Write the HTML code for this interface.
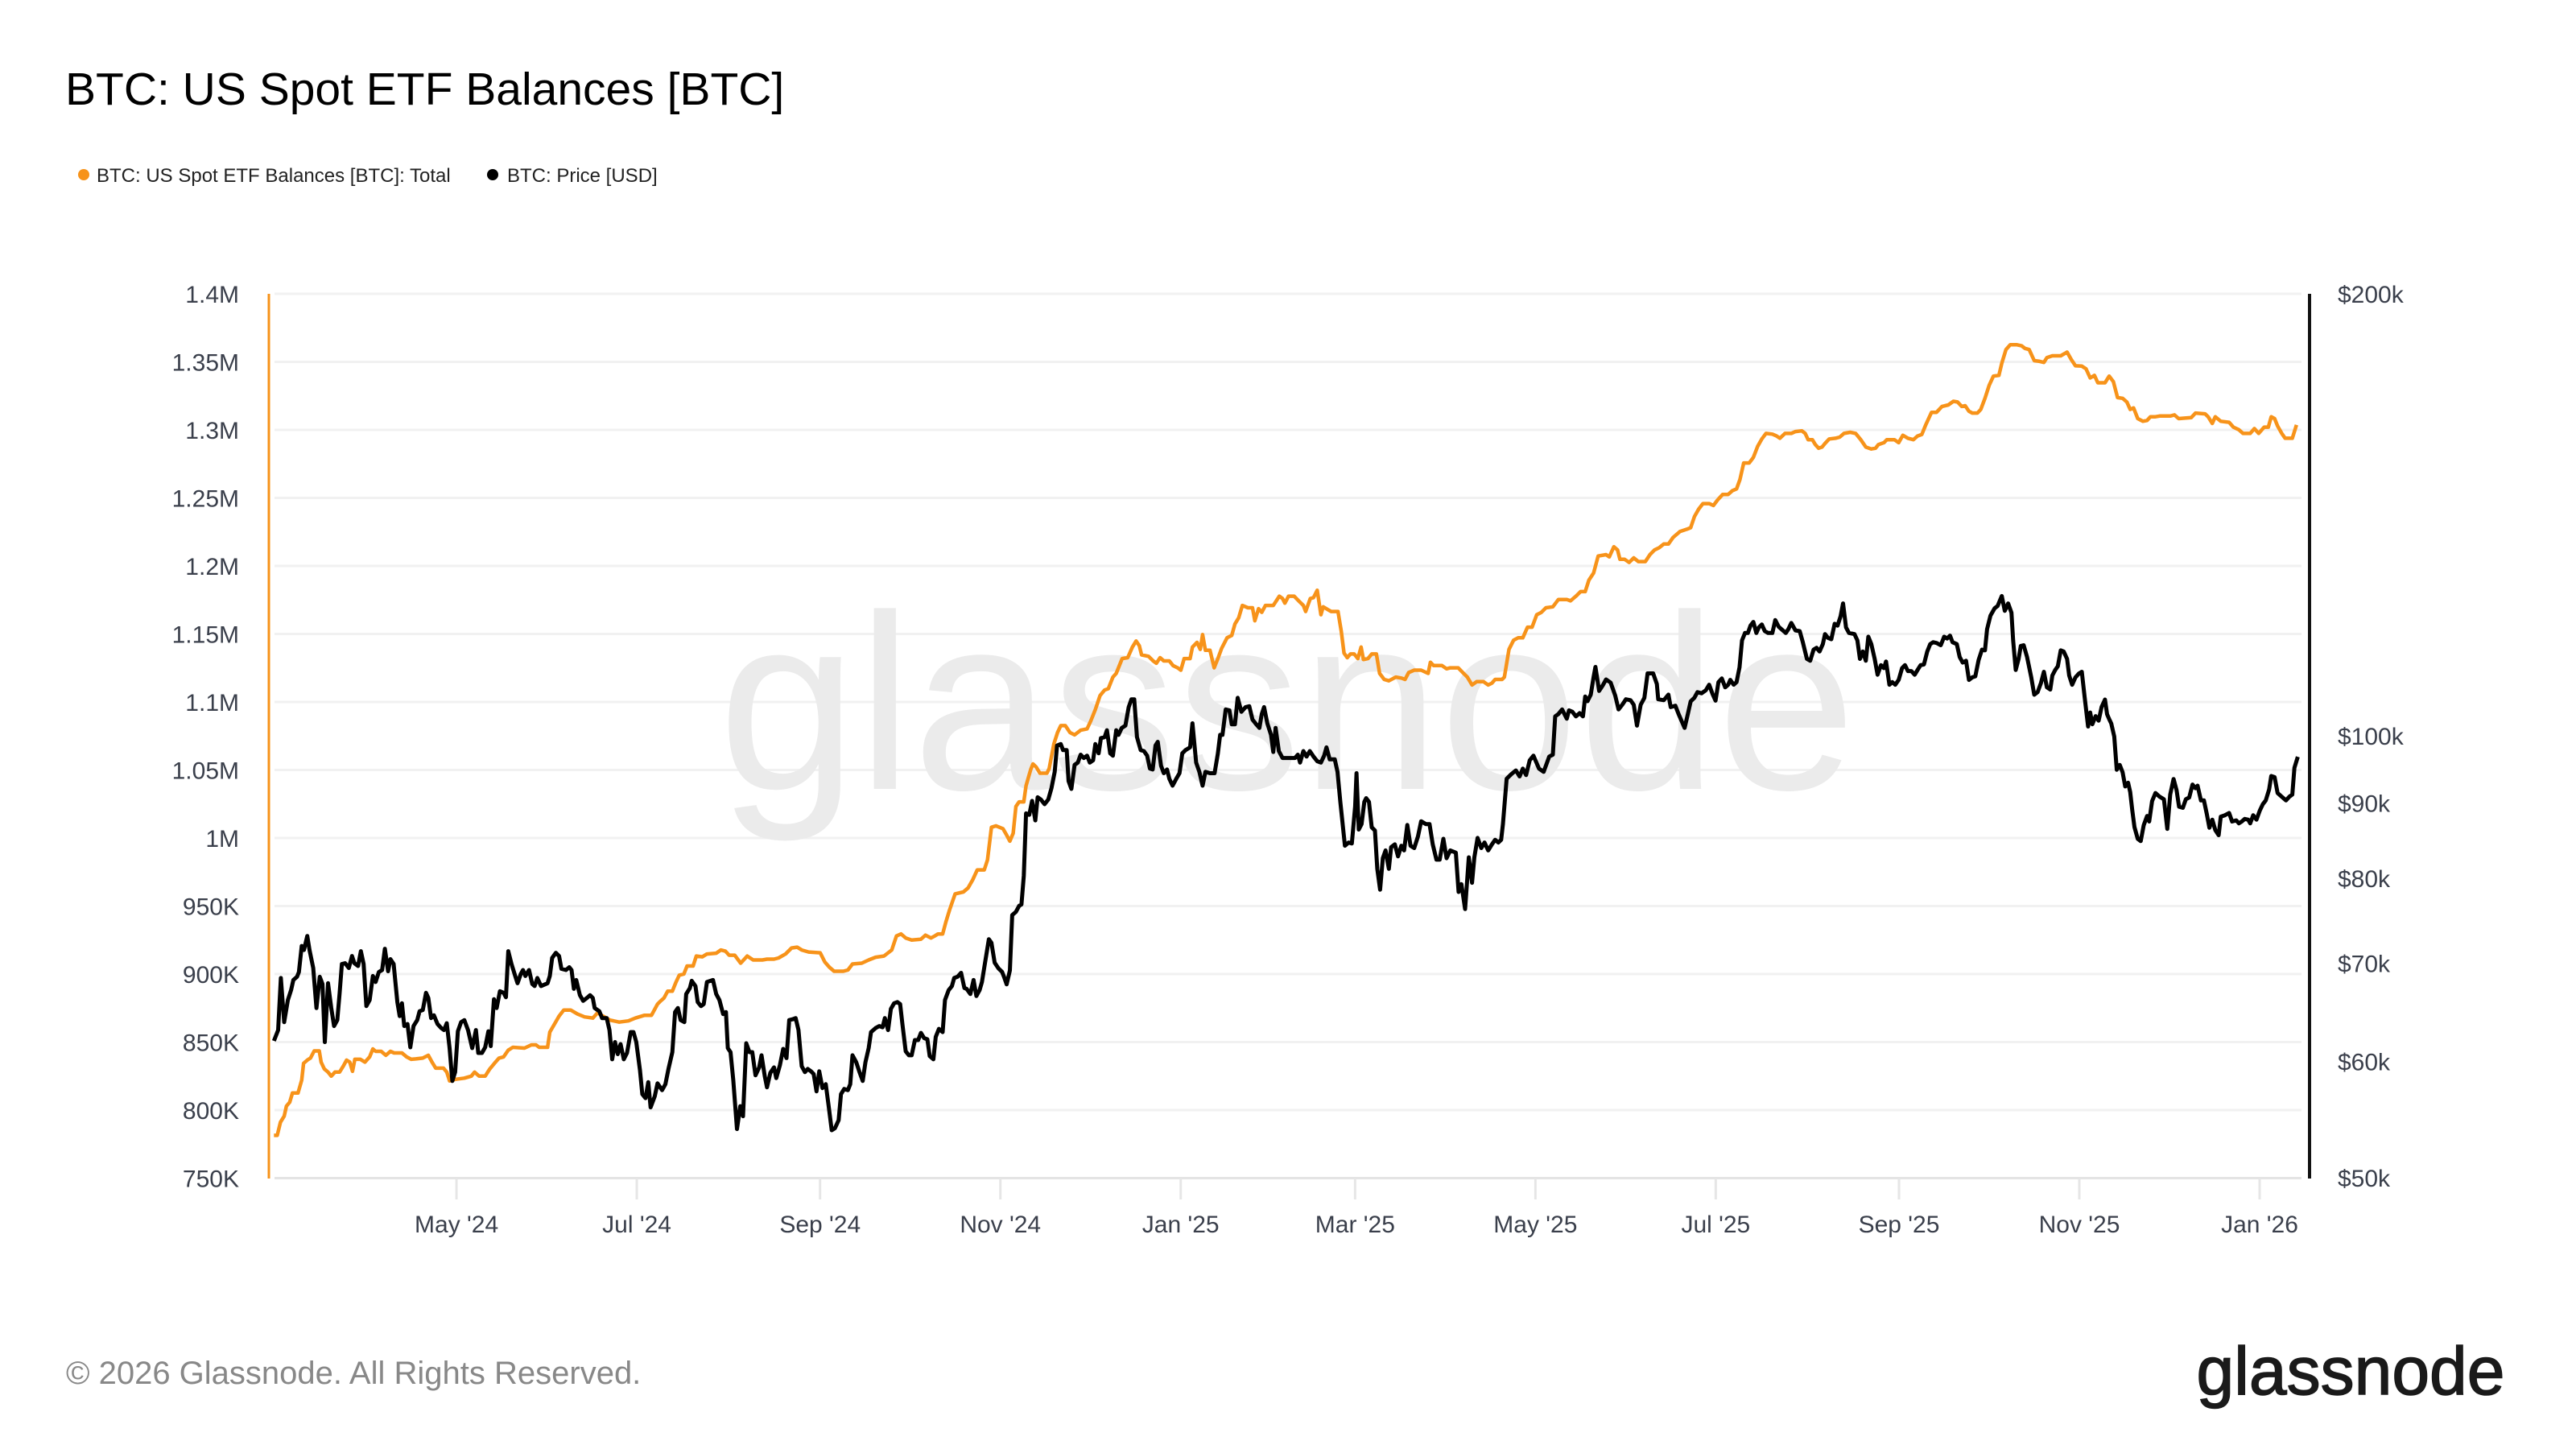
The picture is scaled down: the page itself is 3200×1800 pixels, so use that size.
<!DOCTYPE html>
<html><head><meta charset="utf-8">
<style>
html,body{margin:0;padding:0;background:#fff;}
body{width:3200px;height:1800px;overflow:hidden;position:relative;font-family:"Liberation Sans",Arial,sans-serif;}
</style></head>
<body>
<svg id="c" width="3200" height="1800" viewBox="0 0 3200 1800" xmlns="http://www.w3.org/2000/svg" style="position:absolute;left:0;top:0">
<text x="81" y="130" font-size="57" fill="#000" font-family="Liberation Sans, sans-serif">BTC: US Spot ETF Balances [BTC]</text>
<circle cx="104" cy="217" r="7" fill="#f7931a"/>
<text x="120" y="226" font-size="24" fill="#222" font-family="Liberation Sans, sans-serif">BTC: US Spot ETF Balances [BTC]: Total</text>
<circle cx="612" cy="217" r="7" fill="#000"/>
<text x="630" y="226" font-size="24" fill="#222" font-family="Liberation Sans, sans-serif">BTC: Price [USD]</text>
<g id="grid"></g>
<text x="1599" y="980" font-size="310" fill="#ebebeb" text-anchor="middle" font-family="Liberation Sans, sans-serif">glassnode</text>
<g id="series"></g>
<line x1="334" y1="365" x2="334" y2="1464" stroke="#f7931a" stroke-width="3"/>
<line x1="2869" y1="365" x2="2869" y2="1464" stroke="#111" stroke-width="4"/>
<text x="82" y="1719" font-size="40" fill="#888" font-family="Liberation Sans, sans-serif">© 2026 Glassnode. All Rights Reserved.</text>
<text x="2920" y="1732" font-size="84" fill="#1a1a1a" stroke="#1a1a1a" stroke-width="1.5" text-anchor="middle" font-family="Liberation Sans, sans-serif">glassnode</text>
</svg>
<script>
const NS="http://www.w3.org/2000/svg";
function el(t,a,p){const e=document.createElementNS(NS,t);for(const k in a)e.setAttribute(k,a[k]);if(p)p.appendChild(e);return e;}
const grid=document.getElementById('grid');
const labs=['1.4M','1.35M','1.3M','1.25M','1.2M','1.15M','1.1M','1.05M','1M','950K','900K','850K','800K','750K'];
for(let i=0;i<14;i++){const y=365+i*84.5;
 el('line',{x1:341,x2:2859,y1:y,y2:y,stroke:i==13?'#e4e4e4':'#f1f1f1','stroke-width':3},grid);
 const t=el('text',{x:297,y:y+11,'font-size':30,fill:'#3a3f4b','text-anchor':'end','font-family':'Liberation Sans, sans-serif'},grid);t.textContent=labs[i];}
const rl=[['$200k',200],['$100k',100],['$90k',90],['$80k',80],['$70k',70],['$60k',60],['$50k',50]];
rl.forEach(r=>{const y=1463-792*Math.log(r[1]/50);const t=el('text',{x:2904,y:y+11,'font-size':30,fill:'#3a3f4b','font-family':'Liberation Sans, sans-serif'},grid);t.textContent=r[0];});
const mt=[["May '24",-549],["Jul '24",-488],["Sep '24",-426],["Nov '24",-365],["Jan '25",-304],["Mar '25",-245],["May '25",-184],["Jul '25",-123],["Sep '25",-61],["Nov '25",0],["Jan '26",61]];
mt.forEach(m=>{const x=2583+m[1]*3.672;el('line',{x1:x,x2:x,y1:1464,y2:1490,stroke:'#e6e6e6','stroke-width':3},grid);
 const t=el('text',{x:x,y:1531,'font-size':30,fill:'#3a3f4b','text-anchor':'middle','font-family':'Liberation Sans, sans-serif'},grid);t.textContent=m[0];});
function conv(arr,ox,oy,sx,sy){const o=[];for(let i=0;i<arr.length;i+=2)o.push((ox+arr[i]/sx).toFixed(1)+','+(oy+arr[i+1]/sy).toFixed(1));return o;}
const o6=[18,1428,25,1428,32,1395,40,1380,45,1355,52,1345,58,1322,70,1322,78,1290,82,1248,90,1240,97,1235,105,1217,116,1217,120,1245,127,1262,135,1270,142,1280,150,1270,160,1270,168,1255,175,1240,182,1245,188,1268,193,1238,205,1238,215,1245,225,1232,232,1212,238,1218,250,1218,260,1228,270,1218,278,1222,295,1222,305,1232,315,1238,325,1237,340,1235,352,1228,360,1245,368,1260,385,1260,392,1270,398,1292,410,1288,430,1285,445,1280,452,1270,462,1280,475,1280,485,1262,495,1248,505,1235,515,1232,525,1215,535,1208,560,1210,575,1202,585,1202,592,1208,610,1208,615,1170,625,1150,635,1130,645,1115,660,1115,675,1125,690,1132,708,1135,718,1122,730,1130,745,1140,765,1145,785,1142,800,1135,820,1128,835,1128,848,1100,855,1092,862,1085,870,1068,880,1068,888,1045,895,1028,905,1025,912,1005,925,1005,932,980,945,982,955,975,975,973,985,965,995,968,1003,978,1015,978,1028,998,1042,980,1055,990,1075,990,1085,988,1100,988,1110,985,1125,975,1138,960,1150,958,1160,965,1175,970,1200,972,1210,995,1220,1008,1230,1018,1250,1018,1260,1015,1270,1000,1290,998,1305,990,1320,983,1338,980,1355,965,1365,930,1375,925,1385,935,1398,940,1418,938,1428,928,1440,935,1448,930,1455,925,1465,925,1472,895,1480,865,1492,825,1510,820,1520,810,1530,790,1540,765,1555,765,1562,740];
const o7=[55,745,65,742,80,748,88,762,95,775,102,758,108,700,115,690,125,690,130,655,140,620,145,608,152,615,160,628,175,628,180,618,190,565,198,540,205,525,215,525,225,540,235,545,248,535,262,532,270,515,280,490,290,460,300,448,308,445,318,420,325,412,338,380,350,378,360,355,368,342,375,352,380,372,395,375,405,385,412,390,420,378,428,385,440,385,448,395,458,400,465,405,472,380,485,380,490,355,500,345,507,360,512,328,518,362,528,362,537,400,545,380,553,358,565,335,575,330,582,305,590,292,598,265,610,270,620,270,625,298,633,272,640,280,648,265,665,265,678,245,685,250,690,260,698,245,710,245,720,255,730,265,735,278,745,250,752,248,760,232,768,285,773,268,790,278,805,278,812,320,818,368,825,378,832,370,840,370,848,380,855,355,860,382,870,380,878,370,888,370,895,412,905,425,915,428,930,420,942,422,950,425,958,410,970,405,985,405,1000,412,1005,388,1012,395,1030,395,1040,402,1048,400,1065,400,1075,410,1085,420,1095,437,1105,430,1120,430,1130,437,1138,433,1145,425,1160,425,1165,420,1175,360,1185,340,1195,335,1205,335,1215,312,1225,312,1235,285,1245,280,1255,270,1270,268,1282,252,1300,252,1308,255,1320,245,1330,235,1340,235,1348,210,1358,195,1368,158,1385,155,1392,160,1402,138,1410,145,1415,165,1425,165,1435,172,1445,162,1455,170,1470,170,1480,155,1490,145,1500,140,1510,132,1520,132,1530,118,1545,105,1560,100];
const o8=[96,600,105,570,115,550,125,535,140,535,150,540,160,525,172,510,185,510,195,500,205,495,213,470,222,425,235,425,245,410,255,380,265,360,275,345,290,347,300,352,308,358,320,345,335,345,345,340,360,338,368,345,375,362,385,362,392,375,400,385,408,382,415,372,425,360,440,358,450,355,460,345,475,342,488,345,500,362,512,382,525,387,535,385,542,375,555,370,562,362,580,362,590,370,600,350,612,358,625,362,635,352,645,348,655,320,668,288,680,288,693,272,708,268,720,258,730,260,740,272,748,270,757,285,765,290,777,290,785,280,795,250,805,215,815,190,828,188,835,155,845,118,855,105,870,105,882,108,890,115,900,118,912,148,925,150,935,153,942,140,955,135,975,135,990,125,1000,145,1010,162,1025,163,1035,170,1045,195,1055,188,1063,208,1080,208,1090,190,1100,205,1110,248,1122,250,1132,260,1140,280,1148,276,1158,305,1170,312,1180,310,1188,300,1200,300,1210,298,1235,298,1245,295,1255,305,1285,302,1295,290,1318,292,1325,300,1335,318,1342,300,1355,312,1375,315,1385,328,1398,335,1408,345,1425,345,1435,332,1445,345,1458,328,1468,328,1475,300,1483,305,1490,325,1500,345,1508,358,1525,358,1535,322];
const b6=[18,1192,27,1165,33,1035,40,1145,48,1090,55,1065,60,1040,68,1032,72,1020,78,955,83,965,90,930,95,965,103,1010,110,1110,117,1032,123,1050,128,1195,135,1048,142,1110,148,1155,155,1140,160,1075,165,1000,172,998,180,1010,187,980,192,998,200,1005,206,968,212,1000,218,1105,225,1090,232,1030,238,1045,245,1020,252,1015,258,962,265,1018,270,988,277,1000,285,1095,290,1130,295,1098,300,1155,307,1150,313,1208,320,1155,328,1140,333,1118,340,1115,347,1072,352,1085,358,1135,364,1128,372,1150,380,1160,386,1165,392,1148,398,1210,404,1292,410,1270,416,1168,423,1145,430,1140,438,1165,447,1210,455,1165,460,1222,468,1222,475,1208,482,1168,487,1205,494,1088,500,1110,507,1068,515,1072,520,1083,525,968,532,1000,540,1030,545,1048,552,1025,557,1015,562,1030,570,1015,577,1050,582,1055,588,1035,596,1055,610,1048,615,1030,620,985,628,972,635,980,640,1012,650,1015,657,1008,662,1015,667,1062,672,1040,680,1078,687,1092,695,1085,702,1078,708,1085,712,1110,722,1118,728,1135,738,1135,744,1165,750,1238,756,1195,762,1225,768,1200,775,1238,782,1222,790,1170,796,1170,802,1195,810,1265,815,1325,822,1335,828,1295,833,1358,842,1330,848,1298,858,1315,865,1300,872,1260,880,1220,886,1120,892,1110,898,1140,906,1145,910,1075,918,1060,922,1042,930,1055,935,1095,942,1105,948,1100,955,1045,968,1040,975,1075,982,1090,990,1125,996,1120,1000,1210,1006,1220,1012,1290,1020,1412,1027,1355,1033,1380,1040,1198,1047,1220,1053,1220,1060,1278,1068,1258,1073,1228,1080,1280,1085,1308,1092,1272,1100,1258,1105,1285,1113,1252,1120,1212,1127,1235,1133,1140,1140,1138,1147,1135,1153,1165,1160,1255,1167,1270,1173,1262,1180,1268,1186,1275,1192,1318,1198,1268,1205,1310,1212,1300,1218,1352,1225,1415,1232,1410,1240,1390,1245,1325,1252,1312,1260,1315,1265,1300,1270,1228,1278,1245,1285,1270,1292,1292,1298,1245,1305,1210,1310,1170,1320,1160,1328,1155,1335,1158,1340,1135,1347,1165,1353,1112,1360,1098,1367,1095,1373,1100,1378,1150,1385,1218,1392,1228,1398,1228,1405,1190,1412,1190,1418,1172,1425,1185,1432,1188,1437,1230,1445,1238,1450,1182,1457,1162,1465,1170,1470,1090,1478,1065,1485,1055,1490,1035,1497,1032,1505,1022,1512,1060,1517,1062,1525,1075,1532,1040,1538,1080,1545,1065,1550,1045,1557,995,1565,938];
const b7=[55,995,62,1038,70,1050,78,1058,82,1068,88,1085,95,1055,100,935,108,928,115,915,120,912,125,850,130,715,137,718,143,688,150,730,155,680,162,685,170,695,178,685,185,660,192,625,197,568,205,565,210,578,218,578,222,645,228,662,235,610,242,605,248,588,255,595,262,590,268,605,275,600,280,565,287,585,292,552,300,550,305,535,312,585,318,590,325,535,330,545,337,530,345,525,352,485,358,468,364,468,370,550,378,578,385,580,392,590,398,618,404,620,410,568,415,560,422,612,428,628,435,620,440,640,447,655,455,640,462,628,468,585,475,578,485,572,490,520,498,605,505,625,512,655,518,625,528,628,538,628,545,585,550,545,555,545,562,490,570,492,575,522,582,522,588,465,596,495,605,485,613,483,620,512,628,522,635,530,640,500,645,485,652,520,660,545,665,582,670,530,677,580,685,595,700,595,712,595,718,588,723,605,730,580,737,592,744,580,752,592,760,602,768,605,775,590,780,572,787,598,798,598,804,625,810,690,820,785,828,778,835,780,842,700,845,628,850,750,856,738,862,690,866,682,872,690,878,745,885,752,890,835,896,880,902,812,908,795,915,835,920,788,928,782,935,808,942,785,948,795,955,740,962,785,970,790,978,765,985,732,995,738,1003,738,1010,782,1018,815,1025,815,1033,770,1040,812,1048,795,1060,800,1066,885,1072,868,1080,922,1088,810,1095,865,1100,810,1107,768,1115,790,1122,778,1130,795,1138,782,1145,772,1152,778,1158,772,1162,738,1170,640,1180,630,1190,622,1198,635,1205,618,1212,632,1220,600,1228,590,1240,618,1250,625,1262,592,1270,588,1275,505,1282,500,1290,490,1300,510,1305,492,1312,495,1320,505,1328,498,1335,505,1340,462,1345,472,1352,458,1358,420,1362,398,1370,450,1378,438,1385,425,1395,432,1405,460,1412,490,1420,480,1428,468,1438,470,1445,480,1452,525,1460,480,1468,465,1475,412,1487,412,1495,435,1498,468,1510,470,1520,458,1525,485,1535,482,1542,500,1555,530,1562,500];
const b8=[96,1070,105,1060,112,1045,122,1048,132,1040,140,1025,148,1050,155,1068,162,1018,170,1008,178,1032,185,1025,190,1012,198,1025,205,1018,212,978,218,905,225,885,232,885,238,865,245,855,252,885,258,870,265,862,272,880,280,885,290,885,297,850,305,868,315,878,322,885,328,875,335,858,345,878,355,880,362,908,372,955,380,960,388,930,395,925,402,935,410,915,415,888,422,898,430,902,438,860,445,865,452,840,458,805,465,870,472,885,485,888,492,905,498,955,505,935,512,960,518,895,525,915,533,955,540,998,548,972,555,980,560,962,568,1025,575,1018,582,1025,590,1012,598,980,605,972,612,988,620,988,628,998,635,985,642,972,650,970,658,935,665,915,672,910,680,912,690,918,698,895,705,900,712,892,718,910,728,915,735,950,742,965,750,960,757,1012,765,1005,772,1002,780,958,788,930,795,932,800,875,808,838,818,818,825,812,835,785,842,825,850,805,858,830,862,905,868,985,875,955,880,920,887,918,895,950,905,1005,912,1052,920,1045,928,1020,935,990,942,1032,950,1038,955,1000,962,985,968,975,975,932,982,935,990,955,995,1000,1002,1025,1010,1005,1018,995,1025,990,1032,1060,1040,1138,1045,1100,1050,1132,1058,1110,1065,1122,1072,1085,1080,1065,1085,1105,1090,1118,1095,1130,1102,1165,1108,1255,1115,1242,1122,1262,1128,1300,1135,1290,1140,1315,1145,1365,1150,1410,1158,1442,1165,1448,1172,1405,1180,1380,1185,1395,1192,1340,1200,1318,1210,1328,1220,1335,1228,1415,1235,1322,1243,1280,1250,1310,1256,1355,1265,1358,1272,1335,1280,1330,1288,1295,1295,1305,1300,1298,1308,1338,1315,1338,1322,1375,1328,1412,1335,1390,1342,1418,1350,1432,1355,1382,1365,1378,1375,1372,1382,1395,1392,1392,1398,1400,1405,1395,1412,1388,1420,1390,1425,1400,1432,1378,1440,1390,1448,1365,1455,1348,1462,1338,1470,1308,1475,1272,1483,1275,1490,1318,1500,1328,1510,1338,1518,1328,1525,1322,1530,1250,1538,1220];
const ser=document.getElementById('series');
const op=[].concat(conv(o6,330,700,1.742,2.01),conv(o7,1200,600,1.742,1.742),conv(o8,2050,380,1.912,2.178));
const bp=[].concat(conv(b6,330,700,1.742,2.01),conv(b7,1200,600,1.742,1.742),conv(b8,2050,380,1.912,2.178));
el('polyline',{points:op.join(' '),fill:'none',stroke:'#f7931a','stroke-width':4.5,'stroke-linejoin':'round'},ser);
el('polyline',{points:bp.join(' '),fill:'none',stroke:'#000','stroke-width':5,'stroke-linejoin':'round'},ser);
</script>
</body></html>
